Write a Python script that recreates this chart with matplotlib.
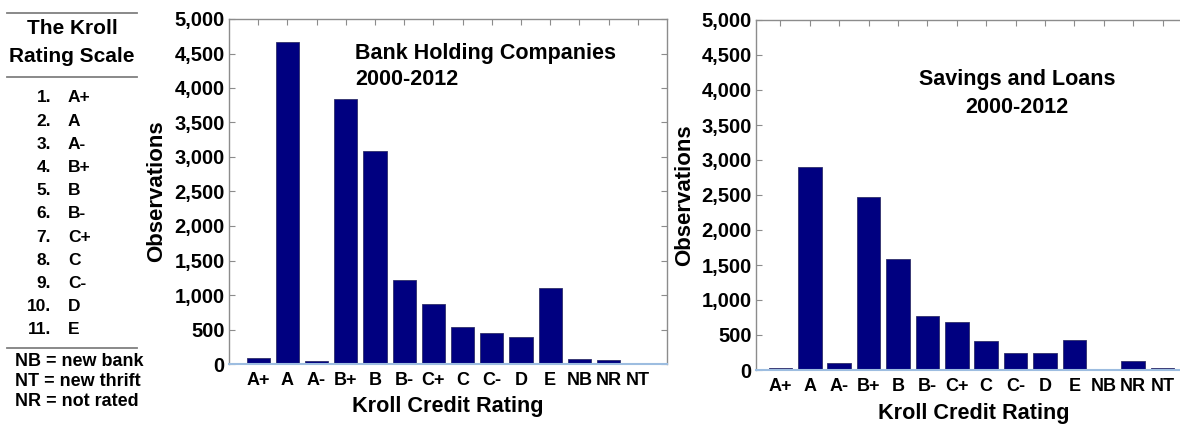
import matplotlib
matplotlib.use("Agg")
import matplotlib.pyplot as plt
from matplotlib.lines import Line2D
from matplotlib.ticker import FuncFormatter

# Kroll credit rating histogram data
ratings = ["A+", "A", "A-", "B+", "B", "B-", "C+", "C", "C-", "D", "E", "NB", "NR", "NT"]
bhc_obs = [85, 4670, 38, 3835, 3085, 1220, 865, 530, 455, 390, 1105, 68, 52, 4]
snl_obs = [33, 2895, 100, 2465, 1585, 770, 680, 418, 248, 238, 428, 6, 133, 33]

scale_nums = ["1.", "2.", "3.", "4.", "5.", "6.", "7.", "8.", "9.", "10.", "11."]
scale_grades = ["A+", "A", "A-", "B+", "B", "B-", "C+", "C", "C-", "D", "E"]
abbrevs = ["NB = new bank", "NT = new thrift", "NR = not rated"]

plt.rcParams["font.family"] = ["Liberation Sans", "DejaVu Sans"]
plt.rcParams["font.weight"] = "bold"

W, H = 1180, 425
fig = plt.figure(figsize=(W / 100, H / 100), dpi=100)

navy = "#000080"
frame = "#8c8c8c"
base = "#9dbde0"


def px(x, y):
    # pixel coords (top-left origin) -> figure fraction
    return x / W, 1 - y / H


def make_axes(left, top, right, bottom, vals, xlim, lines, ha, tx, ylab_x):
    ax = fig.add_axes([left / W, 1 - bottom / H, (right - left) / W, (bottom - top) / H])
    x = range(len(ratings))
    ax.bar(x, vals, width=0.8, color=navy, edgecolor="#30306a", linewidth=0.6)
    ax.set_xlim(*xlim)
    ax.set_ylim(0, 5000)
    ax.set_yticks(range(0, 5001, 500))
    ax.yaxis.set_major_formatter(FuncFormatter(lambda v, p: f"{int(v):,}"))
    ax.set_xticks(list(x))
    ax.set_xticklabels(ratings, fontsize=13, fontweight="bold")
    ax.tick_params(axis="x", bottom=False, top=True, labelbottom=True,
                   direction="in", length=4, color=frame, pad=6)
    ax.tick_params(axis="y", left=True, right=True, direction="in",
                   length=4, color=frame, labelsize=14.5, pad=3)
    for s in ["left", "right", "top"]:
        ax.spines[s].set_color(frame)
        ax.spines[s].set_linewidth(1.0)
    ax.spines["bottom"].set_color(base)
    ax.spines["bottom"].set_linewidth(1.5)
    ax.set_ylabel("Observations", fontsize=16, fontweight="bold")
    ax.yaxis.label.set_va("center")
    ax.yaxis.set_label_coords(ylab_x, 0.5)
    ax.set_xlabel("Kroll Credit Rating", fontsize=15.6, fontweight="bold")
    ax.xaxis.set_label_coords(0.5, -0.124)
    ax.xaxis.label.set_va("center")
    for txt, yy in lines:
        ax.text(tx, yy, txt, transform=ax.transAxes, ha=ha, va="center",
                fontsize=15.5, fontweight="bold")
    return ax


make_axes(229, 19, 667, 364, bhc_obs, (-1, 14),
          [("Bank Holding Companies", 0.901), ("2000-2012", 0.826)], "left", 0.288,
          (157 - 229) / 438)
make_axes(756, 20, 1192, 370, snl_obs, (-0.83, 14),
          [("Savings and Loans", 0.829), ("2000-2012", 0.751)], "center", 0.599,
          (685 - 756) / 436)

# rating scale panel on the left
for yy in [13, 77, 348]:
    x0, y0 = px(7, yy)
    x1, _ = px(137, yy)
    fig.add_artist(Line2D([x0, x1], [y0, y0], color="#808080", lw=1.3))

fig.text(*px(72, 29), "The Kroll", ha="center", va="center", fontsize=15, fontweight="bold")
fig.text(*px(72, 56), "Rating Scale", ha="center", va="center", fontsize=15, fontweight="bold")

for i, (n, g) in enumerate(zip(scale_nums, scale_grades)):
    yy = 98 + i * 23.2
    fig.text(*px(51, yy), n, ha="right", va="center", fontsize=12.5, fontweight="bold")
    fig.text(*px(68, yy), g, ha="left", va="center", fontsize=12.5, fontweight="bold")

for i, t in enumerate(abbrevs):
    fig.text(*px(15, 362 + i * 20), t, ha="left", va="center", fontsize=13, fontweight="bold")

fig.savefig("out.png", dpi=100)
